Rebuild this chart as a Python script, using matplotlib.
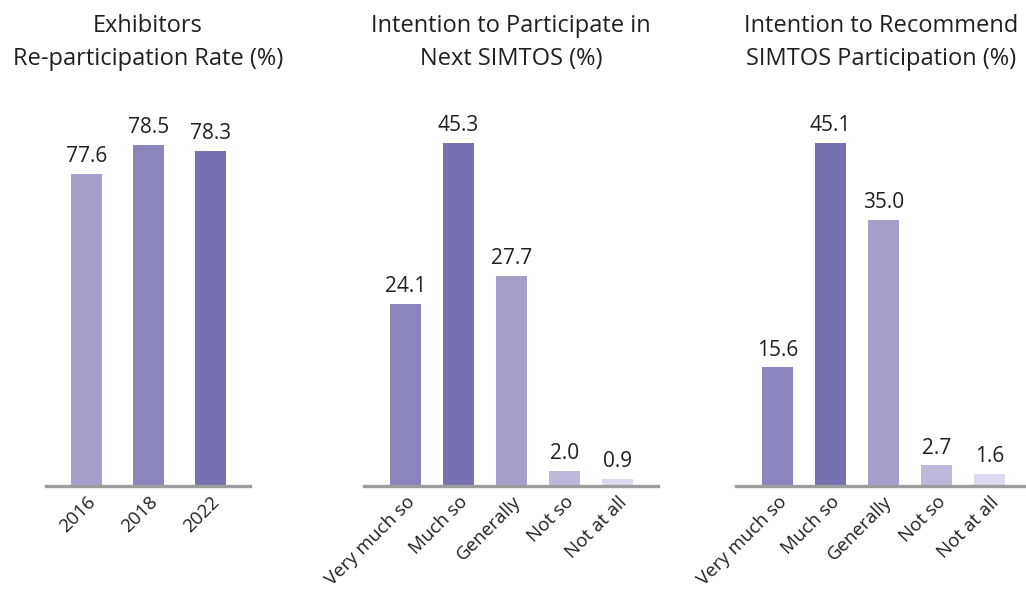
import matplotlib
matplotlib.use("Agg")
import matplotlib.pyplot as plt

plt.rcParams["font.family"] = ["Open Sans", "DejaVu Sans"]

years = ["2016", "2018", "2022"]
reparticipation = [77.6, 78.5, 78.3]

answers = ["Very much so", "Much so", "Generally", "Not so", "Not at all"]
participate = [24.1, 45.3, 27.7, 2.0, 0.9]
recommend = [15.6, 45.1, 35.0, 2.7, 1.6]

titles = [
    "Exhibitors\nRe-participation Rate (%)",
    "Intention to Participate in\nNext SIMTOS (%)",
    "Intention to Recommend\nSIMTOS Participation (%)",
]

year_colors = ["#a59fcc", "#8a85bd", "#7571b1"]
answer_colors = ["#8a85bd", "#7571b1", "#a59fcc", "#bdb9db", "#dcdaee"]

W, H = 1026, 592
fig = plt.figure(figsize=(W / 100, H / 100), dpi=100)


def px_axes(x0, x1, y_top, y_bottom):
    return fig.add_axes([x0 / W, 1 - y_bottom / H, (x1 - x0) / W, (y_bottom - y_top) / H])


def draw_panel(ax, labels, values, colors, width, xlim, ylim, title, title_x):
    x = range(len(labels))
    ax.bar(x, values, width=width, color=colors, zorder=2)
    for xi, v in zip(x, values):
        ax.annotate(f"{v:.1f}", (xi, v), xytext=(0, 5), textcoords="offset points",
                    ha="center", va="bottom", fontsize=15, color="#231f20")
    ax.set_xlim(*xlim)
    ax.set_ylim(*ylim)
    ax.set_yticks([])
    ax.set_xticks(list(x))
    ax.set_xticklabels(labels, rotation=45, ha="right", va="top",
                       rotation_mode="anchor", fontsize=13.5, color="#231f20")
    ax.tick_params(axis="x", length=0, pad=5)
    for side in ["top", "left", "right"]:
        ax.spines[side].set_visible(False)
    ax.spines["bottom"].set_color("#9d9d9d")
    ax.spines["bottom"].set_linewidth(2.4)
    ax.spines["bottom"].set_zorder(3)
    fig.text(title_x / W, 1 - 14 / H, title, ha="center", va="top",
             fontsize=17, color="#231f20", linespacing=1.5)


ax1 = px_axes(46, 250, 100, 486)
draw_panel(ax1, years, reparticipation, year_colors, 0.5,
           (-0.65, 2.64), (67.9, 67.9 + 386 / 32.2), titles[0], 148)

ax2 = px_axes(364, 658, 100, 486)
draw_panel(ax2, answers, participate, answer_colors, 0.585,
           (-0.78, 4.76), (0, 51), titles[1], 511)

ax3 = px_axes(736, 1026, 100, 486)
draw_panel(ax3, answers, recommend, answer_colors, 0.585,
           (-0.78, 4.69), (0, 50.8), titles[2], 881)

fig.savefig("out.png", dpi=100)
